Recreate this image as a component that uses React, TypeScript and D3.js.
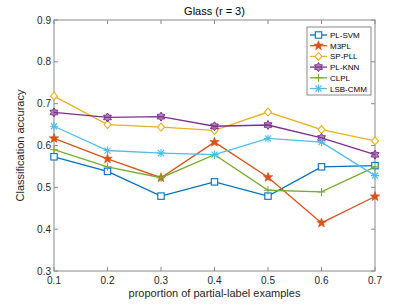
import React from 'react';
import * as d3 from 'd3';

const proportions = [0.1, 0.2, 0.3, 0.4, 0.5, 0.6, 0.7];
const plSvm = [0.573, 0.538, 0.479, 0.513, 0.479, 0.549, 0.552];
const m3pl = [0.617, 0.568, 0.523, 0.608, 0.524, 0.415, 0.478];
const spPll = [0.718, 0.650, 0.644, 0.636, 0.680, 0.638, 0.611];
const plKnn = [0.679, 0.667, 0.669, 0.646, 0.649, 0.618, 0.578];
const clpl = [0.590, 0.549, 0.523, 0.578, 0.493, 0.489, 0.549];
const lsbCmm = [0.646, 0.588, 0.582, 0.578, 0.617, 0.608, 0.528];

const xTicks = [0.1, 0.2, 0.3, 0.4, 0.5, 0.6, 0.7];
const yTicks = [0.3, 0.4, 0.5, 0.6, 0.7, 0.8, 0.9];

const series = [
  { name: 'PL-SVM', values: plSvm, color: '#0072BD', marker: 'square' },
  { name: 'M3PL', values: m3pl, color: '#D95319', marker: 'pentagram' },
  { name: 'SP-PLL', values: spPll, color: '#EDB120', marker: 'diamond' },
  { name: 'PL-KNN', values: plKnn, color: '#7E2F8E', marker: 'hexagram' },
  { name: 'CLPL', values: clpl, color: '#77AC30', marker: 'plus' },
  { name: 'LSB-CMM', values: lsbCmm, color: '#4DBEEE', marker: 'asterisk' },
];

const W = 415;
const H = 305;
const margin = { left: 54, right: 40, top: 20, bottom: 34 };
const font = '"Liberation Sans", Arial, sans-serif';

function starPath(cx: number, cy: number, n: number, ro: number, ri: number) {
  const pts: [number, number][] = [];
  for (let i = 0; i < n * 2; i++) {
    const r = i % 2 === 0 ? ro : ri;
    const a = -Math.PI / 2 + (i * Math.PI) / n;
    pts.push([cx + r * Math.cos(a), cy + r * Math.sin(a)]);
  }
  return 'M' + pts.map(p => p.join(',')).join('L') + 'Z';
}

function Marker({ type, x, y, color }: { type: string; x: number; y: number; color: string }) {
  const s = 3.2;
  switch (type) {
    case 'square':
      return <rect x={x - s} y={y - s} width={2 * s} height={2 * s} fill="white" stroke={color} strokeWidth={1.1} />;
    case 'diamond':
      return <path d={`M${x},${y - 4}L${x + 3.5},${y}L${x},${y + 4}L${x - 3.5},${y}Z`} fill="white" stroke={color} strokeWidth={1.1} />;
    case 'pentagram':
      return <path d={starPath(x, y, 5, 5, 2.1)} fill={color} stroke={color} strokeWidth={0.6} />;
    case 'hexagram':
      return <path d={starPath(x, y, 6, 4.5, 2.7)} fill={color} fillOpacity={0.6} stroke={color} strokeWidth={1} />;
    case 'plus':
      return <path d={`M${x - 4},${y}H${x + 4}M${x},${y - 4}V${y + 4}`} stroke={color} strokeWidth={1.1} />;
    case 'asterisk':
      return (
        <path
          d={`M${x - 4},${y}H${x + 4}M${x},${y - 4}V${y + 4}M${x - 3},${y - 3}L${x + 3},${y + 3}M${x - 3},${y + 3}L${x + 3},${y - 3}`}
          stroke={color}
          strokeWidth={1.1}
        />
      );
    default:
      return null;
  }
}

export default function App() {
  const x = d3.scaleLinear().domain([0.1, 0.7]).range([margin.left, W - margin.right]);
  const y = d3.scaleLinear().domain([0.3, 0.9]).range([H - margin.bottom, margin.top]);
  const line = d3
    .line<number>()
    .x((_, i) => x(proportions[i]))
    .y(d => y(d));

  const x0 = x(0.1);
  const x1 = x(0.7);
  const y0 = y(0.3);
  const y1 = y(0.9);
  const axisColor = '#8a8a8a';
  const tl = 4;

  const legX = 307;
  const legY = 27;
  const legW = 64;
  const legH = 68;
  const legStep = 10.7;

  return (
    <svg width={W} height={H} style={{ position: 'absolute', left: 0, top: 0, fontFamily: font }}>
      <rect width={W} height={H} fill="white" />
      {/* box and ticks */}
      <rect x={x0} y={y1} width={x1 - x0} height={y0 - y1} fill="none" stroke={axisColor} strokeWidth={1} />
      {xTicks.map(t => (
        <g key={'x' + t}>
          <line x1={x(t)} x2={x(t)} y1={y0} y2={y0 - tl} stroke={axisColor} />
          <line x1={x(t)} x2={x(t)} y1={y1} y2={y1 + tl} stroke={axisColor} />
          <text x={x(t)} y={y0 + 13} textAnchor="middle" fontSize={10} fill="#262626">
            {t.toFixed(1)}
          </text>
        </g>
      ))}
      {yTicks.map(t => (
        <g key={'y' + t}>
          <line x1={x0} x2={x0 + tl} y1={y(t)} y2={y(t)} stroke={axisColor} />
          <line x1={x1} x2={x1 - tl} y1={y(t)} y2={y(t)} stroke={axisColor} />
          <text x={x0 - 3} y={y(t) + 3.5} textAnchor="end" fontSize={10} fill="#262626">
            {t.toFixed(1)}
          </text>
        </g>
      ))}
      {/* series */}
      {series.map(s => (
        <g key={s.name}>
          <path d={line(s.values) || ''} fill="none" stroke={s.color} strokeWidth={1.3} />
          {s.values.map((v, i) => (
            <Marker key={i} type={s.marker} x={x(proportions[i])} y={y(v)} color={s.color} />
          ))}
        </g>
      ))}
      {/* title and labels */}
      <text x={(x0 + x1) / 2} y={15} textAnchor="middle" fontSize={11} fill="#000">
        Glass (r = 3)
      </text>
      <text x={(x0 + x1) / 2} y={297} textAnchor="middle" fontSize={11} fill="#262626">
        proportion of partial-label examples
      </text>
      <text
        transform={`translate(24,${(y0 + y1) / 2}) rotate(-90)`}
        textAnchor="middle"
        fontSize={11}
        fill="#262626"
      >
        Classification accuracy
      </text>
      {/* legend */}
      <rect x={legX} y={legY} width={legW} height={legH} fill="white" stroke={axisColor} strokeWidth={1} />
      {series.map((s, i) => {
        const ly = legY + 8 + i * legStep;
        return (
          <g key={'leg' + s.name}>
            <line x1={legX + 3} x2={legX + 20} y1={ly} y2={ly} stroke={s.color} strokeWidth={1.3} />
            <Marker type={s.marker} x={legX + 11.5} y={ly} color={s.color} />
            <text x={legX + 23} y={ly + 3} fontSize={8} fill="#000">
              {s.name}
            </text>
          </g>
        );
      })}
    </svg>
  );
}
